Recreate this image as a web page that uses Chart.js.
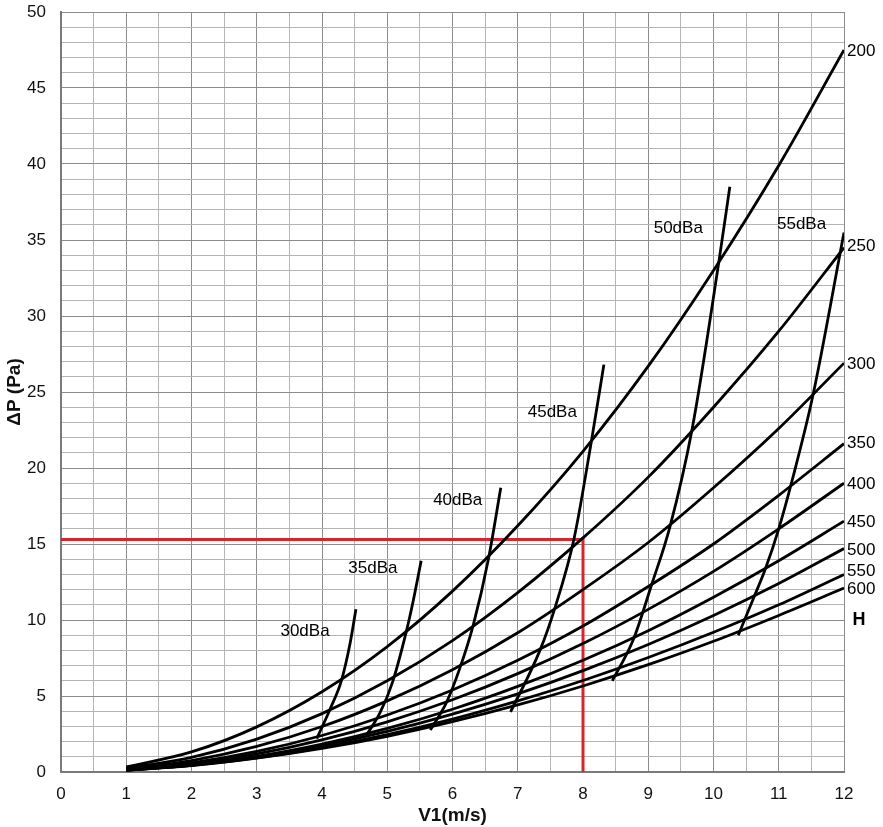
<!DOCTYPE html>
<html><head><meta charset="utf-8">
<script src="https://cdn.jsdelivr.net/npm/chart.js@4.4.0/dist/chart.umd.min.js"></script>
<style>html,body{margin:0;padding:0;background:#fff;}#wrap{width:883px;height:827px;position:relative;}</style>
</head><body><div id="wrap"><canvas id="c" width="883" height="827"></canvas></div>
<script>
// ---- data ----
const velocity = [1,2,3,4,5,6,7,8,9,10,11,12];
const h200 = [0.33,1.32,2.97,5.28,8.25,11.9,16.2,21.1,26.7,33.0,39.9,47.5];
const h250 = [0.24,0.96,2.16,3.84,6.0,8.64,11.8,15.4,19.4,24.0,29.0,34.5];
const h300 = [0.19,0.75,1.68,2.99,4.68,6.73,9.16,12.0,15.1,18.7,22.6,26.9];
const h350 = [0.15,0.6,1.35,2.4,3.75,5.4,7.35,9.6,12.2,15.0,18.2,21.6];
const h400 = [0.13,0.53,1.19,2.11,3.3,4.75,6.47,8.45,10.7,13.2,16.0,19.0];
const h450 = [0.12,0.46,1.03,1.84,2.87,4.13,5.63,7.35,9.3,11.5,13.9,16.5];
const h500 = [0.12,0.45,0.99,1.73,2.67,3.81,5.14,6.67,8.39,10.3,12.4,14.7];
const h550 = [0.12,0.43,0.93,1.61,2.46,3.48,4.68,6.02,7.53,9.19,11.0,13.0];
const h600 = [0.12,0.42,0.91,1.55,2.35,3.31,4.41,5.66,7.06,8.6,10.3,12.1];
const hNames = ['200','250','300','350','400','450','500','550','600'];
const hLabelY = [47.4,34.6,26.8,21.6,18.9,16.4,14.6,13.2,12.0];

const d30X = [3.92,4.12,4.30,4.43,4.52];
const d30Y = [2.2,4.1,6.05,8.45,10.7];
const d35X = [4.67,4.89,5.08,5.29,5.40,5.52];
const d35Y = [2.35,3.9,5.9,9.2,11.3,13.9];
const d40X = [5.66,5.91,6.11,6.32,6.55,6.74];
const d40Y = [2.76,4.6,6.8,9.7,14.0,18.7];
const d45X = [6.89,7.34,7.57,7.86,8.13,8.32];
const d45Y = [3.95,8.0,10.8,15.3,21.8,26.8];
const d50X = [8.45,8.77,9.05,9.33,9.67,10.08,10.25];
const d50Y = [6.0,8.7,12.3,16.1,22.5,33.5,38.5];
const d55X = [10.38,10.61,10.79,11.0,11.2,11.52,12.0];
const d55Y = [9.0,11.4,13.3,16.0,19.1,24.7,35.5];
const dbaNames = ['30dBa','35dBa','40dBa','45dBa','50dBa','55dBa'];
const dbaLabelX = [3.74,4.78,6.08,7.53,9.46,11.35];
const dbaLabelY = [9.24,13.4,17.9,23.65,35.76,36.0];

const redX = [0,8,8];
const redY = [15.3,15.3,0];

// ---- build ----
const hSeries = [h200,h250,h300,h350,h400,h450,h500,h550,h600];
const dSeries = [[d30X,d30Y],[d35X,d35Y],[d40X,d40Y],[d45X,d45Y],[d50X,d50Y],[d55X,d55Y]];
const pts = (xs, ys) => xs.map((x,i)=>({x:x,y:ys[i]}));
const FONT = '"Liberation Sans", Arial, sans-serif';

const datasets = [];
hSeries.forEach((s,i)=>datasets.push({label:'H'+hNames[i],data:pts(velocity,s),borderColor:'#000',borderWidth:2.8,pointRadius:0,showLine:true,cubicInterpolationMode:'monotone',fill:false,order:1}));
dSeries.forEach((s,i)=>datasets.push({label:dbaNames[i],data:pts(s[0],s[1]),borderColor:'#000',borderWidth:2.8,pointRadius:0,showLine:true,cubicInterpolationMode:'monotone',fill:false,order:1}));
datasets.push({label:'sel',data:pts(redX,redY),borderColor:'#d7262b',borderWidth:3,pointRadius:0,showLine:true,tension:0,fill:false,order:5});

const labelPlugin = {
  id:'labels',
  afterDatasetsDraw(chart){
    const ctx = chart.ctx, xs = chart.scales.x, ys = chart.scales.y;
    ctx.save();
    ctx.fillStyle = '#000';
    ctx.font = '17px ' + FONT;
    ctx.textAlign = 'center'; ctx.textBaseline = 'middle';
    dbaNames.forEach((n,i)=>ctx.fillText(n, xs.getPixelForValue(dbaLabelX[i]), ys.getPixelForValue(dbaLabelY[i])));
    ctx.textAlign = 'left';
    const xr = xs.getPixelForValue(12) + 3;
    hNames.forEach((n,i)=>ctx.fillText(n, xr, ys.getPixelForValue(hLabelY[i])));
    ctx.font = 'bold 18px ' + FONT;
    ctx.textAlign = 'center';
    ctx.fillText('H', xr + 12, ys.getPixelForValue(10.0));
    ctx.restore();
  }
};

new Chart(document.getElementById('c'), {
  type:'scatter',
  data:{datasets},
  plugins:[labelPlugin],
  options:{
    responsive:false, animation:false, devicePixelRatio:1,
    layout:{padding:{top:12,right:39,left:0,bottom:0}},
    plugins:{legend:{display:false},tooltip:{enabled:false}},
    scales:{
      x:{type:'linear',min:0,max:12,
        afterFit(s){s.height=55;s.paddingLeft=0;s.paddingRight=0;},
        border:{color:'#7a7a7a',width:2},
        grid:{drawTicks:false,lineWidth:1,color:c=>(c.tick && c.tick.value%1===0)?'#8c8c8c':'#b5b5b5'},
        ticks:{stepSize:0.5,autoSkip:false,maxRotation:0,padding:12,color:'#111',font:{family:FONT,size:17},callback:v=>v%1===0?String(v):''},
        title:{display:true,text:'V1(m/s)',color:'#111',font:{family:FONT,size:19,weight:'bold'},padding:{top:0,bottom:0}}
      },
      y:{type:'linear',min:0,max:50,
        afterFit(s){s.width=61;s.paddingTop=0;s.paddingBottom=0;},
        border:{color:'#7a7a7a',width:2},
        grid:{drawTicks:false,lineWidth:1,color:c=>(c.tick && c.tick.value%5===0)?'#8c8c8c':'#b5b5b5'},
        ticks:{stepSize:1,autoSkip:false,padding:15,color:'#111',font:{family:FONT,size:17},callback:v=>v%5===0?String(v):''},
        title:{display:true,text:'ΔP (Pa)',color:'#111',font:{family:FONT,size:19,weight:'bold'},padding:{top:3,bottom:0}}
      }
    }
  }
});
</script></body></html>
